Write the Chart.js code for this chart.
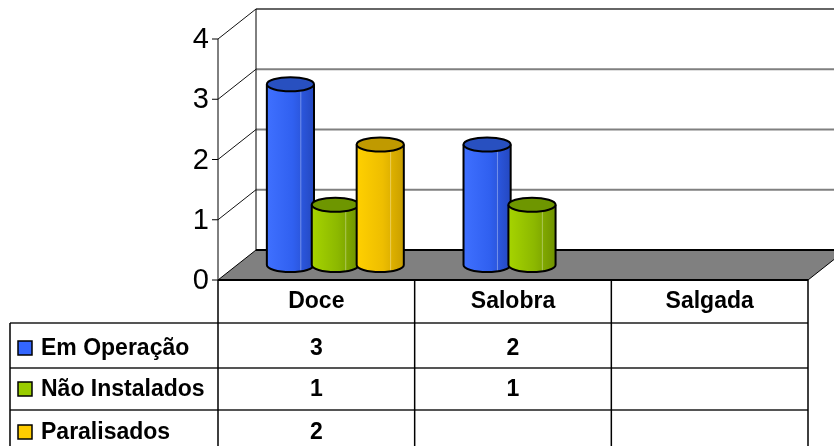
<!DOCTYPE html>
<html>
<head>
<meta charset="utf-8">
<script src="https://cdn.jsdelivr.net/npm/chart.js@4"></script>
<style>
  body { margin: 0; background: #fff; }
  canvas { display: block; }
</style>
</head>
<body>
<canvas id="myChart" width="834" height="446"></canvas>
<script>
// data
const categories = ['Doce', 'Salobra', 'Salgada'];
const emOperacao = [3, 2, null];
const naoInstalados = [1, 1, null];
const paralisados = [2, null, null];
const seriesNames = ['Em Operação', 'Não Instalados', 'Paralisados'];
const yTicks = [0, 1, 2, 3, 4];

// half depth of the 3d box (mid plane -> front / back)
const DX = 19, DY = 15;
const FONT = '"Liberation Sans", Arial, sans-serif';

const palette = [
  { light: '#3f70ff', mid: '#3060f0', dark: '#2448c0', top: '#2850c0', key: '#3366ff' },
  { light: '#a6d400', mid: '#8cb800', dark: '#6f9200', top: '#6e9600', key: '#99cc00' },
  { light: '#ffd000', mid: '#eebe00', dark: '#c89e00', top: '#c09a00', key: '#ffcc00' }
];

function drawCylinder(ctx, cx, w, top, base, c) {
  const rx = w / 2, ry = 7;
  const l = cx - rx, r = cx + rx;
  const g = ctx.createLinearGradient(l, 0, r, 0);
  g.addColorStop(0, c.light);
  g.addColorStop(0.55, c.mid);
  g.addColorStop(1, c.dark);
  ctx.beginPath();
  ctx.moveTo(l, top);
  ctx.lineTo(l, base);
  ctx.ellipse(cx, base, rx, ry, 0, Math.PI, 0, true);
  ctx.lineTo(r, top);
  ctx.ellipse(cx, top, rx, ry, 0, 0, Math.PI, false);
  ctx.closePath();
  ctx.fillStyle = g;
  ctx.fill();
  // flute highlight
  ctx.strokeStyle = 'rgba(255,255,255,0.35)';
  ctx.lineWidth = 1;
  ctx.beginPath();
  ctx.moveTo(l + w * 0.72, top + ry);
  ctx.lineTo(l + w * 0.72, base + ry - 1);
  ctx.stroke();
  ctx.strokeStyle = '#000';
  ctx.lineWidth = 2;
  ctx.beginPath();
  ctx.moveTo(l, top);
  ctx.lineTo(l, base);
  ctx.ellipse(cx, base, rx, ry, 0, Math.PI, 0, true);
  ctx.lineTo(r, top);
  ctx.stroke();
  // top cap
  ctx.beginPath();
  ctx.ellipse(cx, top, rx, ry, 0, 0, Math.PI * 2);
  ctx.fillStyle = c.top;
  ctx.fill();
  ctx.stroke();
}

const scene = {
  id: 'scene',
  beforeDatasetsDraw(chart) {
    const ctx = chart.ctx;
    const xs = chart.scales.x, ys = chart.scales.y;
    const fl = xs.left - DX, fr = xs.right - DX;   // front plane
    const bl = xs.left + DX, br = xs.right + DX;   // back plane
    const yf = v => ys.getPixelForValue(v) + DY;
    const yb = v => ys.getPixelForValue(v) - DY;
    const top = yTicks[yTicks.length - 1];
    ctx.save();
    // back wall gridlines
    yTicks.forEach(v => {
      if (v === 0) return;
      ctx.strokeStyle = v === top ? '#333' : '#808080';
      ctx.lineWidth = v === top ? 1.5 : 2;
      ctx.beginPath();
      ctx.moveTo(bl, yb(v));
      ctx.lineTo(br, yb(v));
      ctx.stroke();
      // side wall lines
      ctx.strokeStyle = '#111';
      ctx.lineWidth = 1;
      ctx.beginPath();
      ctx.moveTo(fl, yf(v));
      ctx.lineTo(bl, yb(v));
      ctx.stroke();
    });
    // back wall left edge
    ctx.strokeStyle = '#000';
    ctx.lineWidth = 1;
    ctx.beginPath();
    ctx.moveTo(bl, yb(top));
    ctx.lineTo(bl, yb(0));
    ctx.stroke();
    // floor
    ctx.beginPath();
    ctx.moveTo(fl, yf(0));
    ctx.lineTo(fr, yf(0));
    ctx.lineTo(br, yb(0));
    ctx.lineTo(bl, yb(0));
    ctx.closePath();
    ctx.fillStyle = '#808080';
    ctx.fill();
    ctx.strokeStyle = '#000';
    ctx.lineWidth = 1;
    ctx.stroke();
    ctx.lineWidth = 2;
    ctx.beginPath();
    ctx.moveTo(bl, yb(0));
    ctx.lineTo(br, yb(0));
    ctx.moveTo(fl, yf(0));
    ctx.lineTo(fr, yf(0));
    ctx.stroke();
    // front axis
    ctx.lineWidth = 1;
    ctx.beginPath();
    ctx.moveTo(fl, yf(top));
    ctx.lineTo(fl, yf(0));
    yTicks.forEach(v => {
      ctx.moveTo(fl - 6, yf(v));
      ctx.lineTo(fl, yf(v));
    });
    ctx.stroke();
    ctx.fillStyle = '#000';
    ctx.font = '29px ' + FONT;
    ctx.textAlign = 'right';
    ctx.textBaseline = 'middle';
    yTicks.forEach(v => ctx.fillText(String(v), fl - 9, yf(v) + 1));
    ctx.restore();
  },
  beforeDatasetDraw() {
    return false;
  },
  afterDatasetsDraw(chart) {
    const ctx = chart.ctx;
    ctx.save();
    chart.data.datasets.forEach((ds, i) => {
      const meta = chart.getDatasetMeta(i);
      meta.data.forEach((bar, j) => {
        if (ds.data[j] === null) return;
        drawCylinder(ctx, bar.x, bar.width, bar.y, bar.base, palette[i]);
      });
    });
    ctx.restore();
  },
  afterDraw(chart) {
    const ctx = chart.ctx;
    const xs = chart.scales.x, ys = chart.scales.y;
    const cw = (xs.right - xs.left) / categories.length;
    const fl = xs.left - DX;
    const tableTop = ys.getPixelForValue(0) + DY;
    const headerBottom = 323;
    const rowLines = [323, 368, 410];
    const rowText = [349, 390, 433];
    const labelLeft = 10;
    const series = [emOperacao, naoInstalados, paralisados];
    ctx.save();
    // horizontal rules
    ctx.strokeStyle = '#555';
    ctx.lineWidth = 2;
    rowLines.forEach(y => {
      ctx.beginPath();
      ctx.moveTo(labelLeft, y);
      ctx.lineTo(fl + cw * categories.length, y);
      ctx.stroke();
    });
    // vertical rules
    ctx.strokeStyle = '#000';
    ctx.lineWidth = 1.5;
    ctx.beginPath();
    ctx.moveTo(labelLeft, headerBottom);
    ctx.lineTo(labelLeft, 446);
    for (let k = 0; k <= categories.length; k++) {
      ctx.moveTo(fl + cw * k, tableTop);
      ctx.lineTo(fl + cw * k, 446);
    }
    ctx.stroke();
    // header
    ctx.fillStyle = '#000';
    ctx.font = 'bold 23px ' + FONT;
    ctx.textAlign = 'center';
    ctx.textBaseline = 'middle';
    categories.forEach((c, k) => {
      ctx.fillText(c, xs.getPixelForValue(k) - DX, 302);
    });
    // rows
    series.forEach((vals, i) => {
      const cy = rowText[i];
      ctx.fillStyle = palette[i].key;
      ctx.fillRect(18, cy - 8, 14, 14);
      ctx.strokeStyle = '#000';
      ctx.lineWidth = 1.5;
      ctx.strokeRect(18, cy - 8, 14, 14);
      ctx.fillStyle = '#000';
      ctx.textAlign = 'left';
      ctx.fillText(seriesNames[i], 41, cy);
      ctx.textAlign = 'center';
      vals.forEach((v, k) => {
        if (v !== null) ctx.fillText(String(v), xs.getPixelForValue(k) - DX, cy);
      });
    });
    ctx.restore();
  }
};

const ctx = document.getElementById('myChart').getContext('2d');
const myChart = new Chart(ctx, {
  type: 'bar',
  data: {
    labels: categories,
    datasets: [
      { label: seriesNames[0], data: emOperacao, backgroundColor: palette[0].key },
      { label: seriesNames[1], data: naoInstalados, backgroundColor: palette[1].key },
      { label: seriesNames[2], data: paralisados, backgroundColor: palette[2].key }
    ]
  },
  options: {
    responsive: false,
    animation: false,
    layout: { padding: { left: 237, right: 7, top: 24, bottom: 181 } },
    datasets: { bar: { categoryPercentage: 0.685, barPercentage: 1.05 } },
    scales: {
      x: { display: false },
      y: { display: false, min: 0, max: 4, ticks: { stepSize: 1 } }
    },
    plugins: {
      legend: { display: false },
      tooltip: { enabled: false }
    }
  },
  plugins: [scene]
});
</script>
</body>
</html>
